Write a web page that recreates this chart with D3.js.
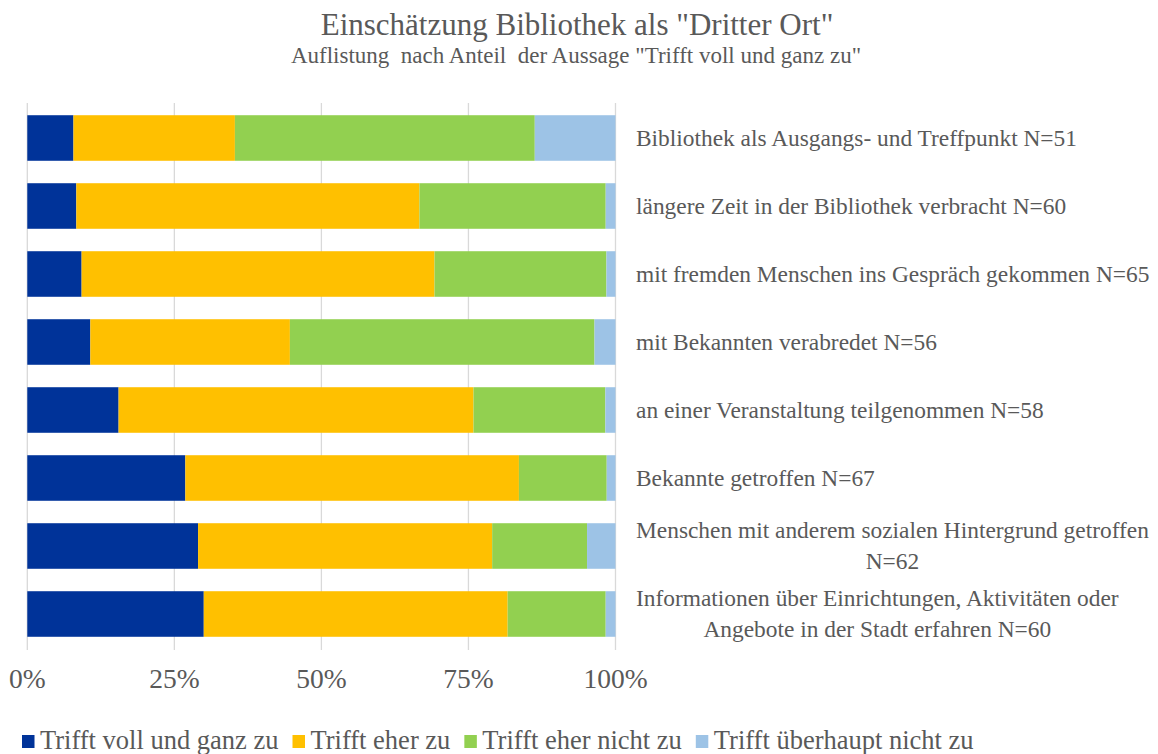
<!DOCTYPE html>
<html>
<head>
<meta charset="utf-8">
<script src="https://cdn.jsdelivr.net/npm/d3@7"></script>
<style>
  html, body { margin: 0; padding: 0; background: #ffffff; }
  svg { display: block; }
  text { font-family: "Liberation Serif", "DejaVu Serif", serif; fill: #595959; }
</style>
</head>
<body>
<svg id="chart" width="1158" height="754"></svg>
<script>
// Statements about the library as a "third place", ordered by share of "Trifft voll und ganz zu"
const statements = [
  ["Bibliothek als Ausgangs- und Treffpunkt N=51"],
  ["längere Zeit in der Bibliothek verbracht N=60"],
  ["mit fremden Menschen ins Gespräch gekommen N=65"],
  ["mit Bekannten verabredet N=56"],
  ["an einer Veranstaltung teilgenommen N=58"],
  ["Bekannte getroffen N=67"],
  ["Menschen mit anderem sozialen Hintergrund getroffen", "N=62"],
  ["Informationen über Einrichtungen, Aktivitäten oder", "Angebote in der Stadt erfahren N=60"]
];

// Number of answers per statement and response category
const voll      = [4, 5, 6, 6, 9, 18, 18, 18];
const eher      = [14, 35, 39, 19, 35, 38, 31, 31];
const eherNicht = [26, 19, 19, 29, 13, 10, 10, 10];
const garNicht  = [7, 1, 1, 2, 1, 1, 3, 1];

const seriesNames = ["Trifft voll und ganz zu", "Trifft eher zu", "Trifft eher nicht zu", "Trifft überhaupt nicht zu"];
const seriesColors = ["#003399", "#FFC000", "#92D050", "#9DC3E6"];
const tickValues = [0, 0.25, 0.5, 0.75, 1];
const tickLabels = ["0%", "25%", "50%", "75%", "100%"];

const svg = d3.select("#chart");

const rows = statements.map((lines, i) => ({
  key: i,
  lines,
  values: [voll[i], eher[i], eherNicht[i], garNicht[i]]
}));

const x = d3.scaleLinear().domain([0, 1]).range([27.3, 615.5]);
const y = d3.scaleBand()
  .domain(rows.map(r => r.key))
  .range([104, 648])
  .paddingInner(0.33)
  .paddingOuter(0.165);

// Vertical gridlines
svg.append("g")
  .selectAll("line")
  .data(tickValues)
  .join("line")
  .attr("x1", d => x(d)).attr("x2", d => x(d))
  .attr("y1", 103).attr("y2", 650)
  .attr("stroke", "#d9d9d9")
  .attr("stroke-width", 1.3);

// Stacked 100% bars
const stackData = rows.map(r => {
  const total = d3.sum(r.values);
  const o = { key: r.key };
  r.values.forEach((v, j) => { o[j] = v / total; });
  return o;
});
const stack = d3.stack().keys([0, 1, 2, 3]);
const layers = stack(stackData);

svg.append("g")
  .selectAll("g")
  .data(layers)
  .join("g")
  .attr("fill", (d, i) => seriesColors[i])
  .selectAll("rect")
  .data(d => d)
  .join("rect")
  .attr("x", d => x(d[0]))
  .attr("width", d => x(d[1]) - x(d[0]))
  .attr("y", d => y(d.data.key))
  .attr("height", y.bandwidth());

// Axis tick labels below the plot
svg.append("g")
  .selectAll("text")
  .data(tickValues)
  .join("text")
  .attr("x", d => x(d))
  .attr("y", 688)
  .attr("text-anchor", "middle")
  .style("font-size", "27.5px")
  .text((d, i) => tickLabels[i]);

// Category labels to the right of the bars
const labelX = 636;
const labelSize = 23.4;
const lineGap = 31;
const labels = svg.append("g");
rows.forEach(r => {
  const cy = y(r.key) + y.bandwidth() / 2;
  const n = r.lines.length;
  if (n === 1) {
    labels.append("text")
      .attr("x", labelX)
      .attr("y", cy + labelSize * 0.33)
      .style("font-size", labelSize + "px")
      .text(r.lines[0]);
  } else {
    const t = labels.append("text").style("font-size", labelSize + "px");
    const spans = r.lines.map((line, k) =>
      t.append("tspan")
        .attr("y", cy + (k - (n - 1) / 2) * lineGap + labelSize * 0.33)
        .text(line));
    const widest = d3.max(spans, s => s.node().getComputedTextLength());
    const cx = labelX + widest / 2;
    spans.forEach(s => s.attr("x", cx).attr("text-anchor", "middle"));
  }
});

// Title and subtitle
svg.append("text")
  .attr("x", 577).attr("y", 35)
  .attr("text-anchor", "middle")
  .style("font-size", "31px")
  .text('Einschätzung Bibliothek als "Dritter Ort"');
svg.append("text")
  .attr("x", 576).attr("y", 63)
  .attr("text-anchor", "middle")
  .style("font-size", "23px")
  .style("white-space", "pre")
  .text('Auflistung  nach Anteil  der Aussage "Trifft voll und ganz zu"');

// Legend
const legend = svg.append("g").attr("transform", "translate(22,735)");
let lx = 0;
seriesNames.forEach((name, i) => {
  const item = legend.append("g").attr("transform", `translate(${lx},0)`);
  item.append("rect").attr("width", 12.5).attr("height", 13).attr("fill", seriesColors[i]);
  const t = item.append("text")
    .attr("x", 18).attr("y", 14)
    .style("font-size", "26.5px")
    .text(name);
  lx += 18 + t.node().getComputedTextLength() + 14;
});
</script>
</body>
</html>
